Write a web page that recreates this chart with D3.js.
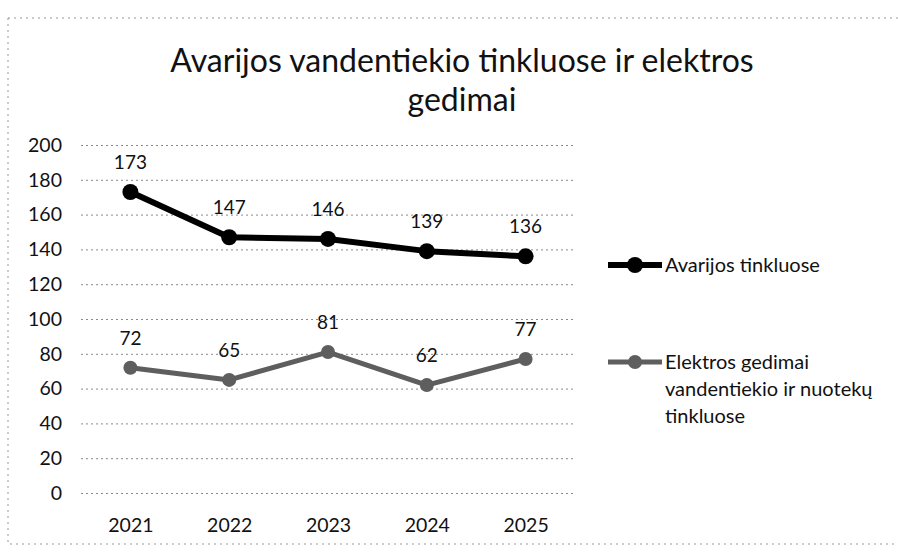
<!DOCTYPE html>
<html>
<head>
<meta charset="utf-8">
<script src="https://cdn.jsdelivr.net/npm/d3@7"></script>
<style>
  body { margin: 0; background: #fff; }
  text { font-family: Lato, "Open Sans", sans-serif; fill: #111; }
</style>
</head>
<body>
<svg id="chart" width="898" height="553"></svg>
<script>
const years = ["2021", "2022", "2023", "2024", "2025"];
const avarijos = [173, 147, 146, 139, 136];
const elektros = [72, 65, 81, 62, 77];
const yTicks = [0, 20, 40, 60, 80, 100, 120, 140, 160, 180, 200];
const titleLines = ["Avarijos vandentiekio tinkluose ir elektros", "gedimai"];
const legendNames = [["Avarijos tinkluose"], ["Elektros gedimai", "vandentiekio ir nuotekų", "tinkluose"]];

const margin = {top: 145, left: 81, right: 323, bottom: 60},
  width = 898 - margin.left - margin.right,
  height = 493 - margin.top;

const svg = d3.select("#chart");

// faint scanned frame
svg.append("rect")
  .attr("x", 8).attr("y", 18).attr("width", 900).attr("height", 526)
  .attr("fill", "none").attr("stroke", "#999")
  .attr("stroke-dasharray", "2,4").attr("stroke-width", 1);

// title
svg.selectAll("text.title").data(titleLines).enter().append("text")
  .attr("class", "title")
  .attr("x", 462).attr("y", (d, i) => 72 + i * 39)
  .attr("text-anchor", "middle")
  .style("font-size", "32px")
  .text(d => d);

const g = svg.append("g").attr("transform", "translate(" + margin.left + "," + margin.top + ")");

const x = d3.scalePoint().domain(years).range([0, width]).padding(0.5);
const y = d3.scaleLinear().domain([0, 200]).range([height, 0]);

// Y axis with gridlines
const yAxis = d3.axisLeft(y).tickValues(yTicks).tickSize(-width).tickPadding(19);
const ya = g.append("g").attr("class", "y axis").call(yAxis);
ya.select(".domain").remove();
ya.selectAll("line").attr("stroke", "#8a8a8a").attr("stroke-dasharray", "2,3");
ya.selectAll("text").style("font-size", "19.5px").attr("fill", "#111");

// X axis
const xAxis = d3.axisBottom(x).tickSize(0).tickPadding(25);
const xa = g.append("g").attr("class", "x axis").attr("transform", "translate(0," + height + ")").call(xAxis);
xa.select(".domain").remove();
xa.selectAll("text").style("font-size", "19.5px").attr("fill", "#111");

const line = d3.line()
  .x((d, i) => x(years[i]))
  .y(d => y(d));

const series = [
  {values: avarijos, color: "#000", width: 6, r: 8},
  {values: elektros, color: "#5e5e5e", width: 5, r: 7}
];

series.forEach(s => {
  g.append("path")
    .attr("d", line(s.values))
    .attr("fill", "none")
    .attr("stroke", s.color)
    .attr("stroke-width", s.width)
    .attr("stroke-linejoin", "round");

  g.selectAll(null).data(s.values).enter().append("circle")
    .attr("cx", (d, i) => x(years[i]))
    .attr("cy", d => y(d))
    .attr("r", s.r)
    .attr("fill", s.color);

  g.selectAll(null).data(s.values).enter().append("text")
    .attr("x", (d, i) => x(years[i]))
    .attr("y", d => y(d) - 23)
    .attr("text-anchor", "middle")
    .style("font-size", "19px")
    .text(d => d);
});

// legend
const legendY = [265, 362];
series.forEach((s, k) => {
  const lg = svg.append("g").attr("transform", "translate(608," + legendY[k] + ")");
  lg.append("line").attr("x1", 0).attr("x2", 54)
    .attr("stroke", s.color).attr("stroke-width", s.width);
  lg.append("circle").attr("cx", 27).attr("r", s.r).attr("fill", s.color);
  lg.selectAll("text").data(legendNames[k]).enter().append("text")
    .attr("x", 57).attr("y", (d, i) => 7 + i * 27)
    .style("font-size", "20px")
    .text(d => d);
});
</script>
</body>
</html>
